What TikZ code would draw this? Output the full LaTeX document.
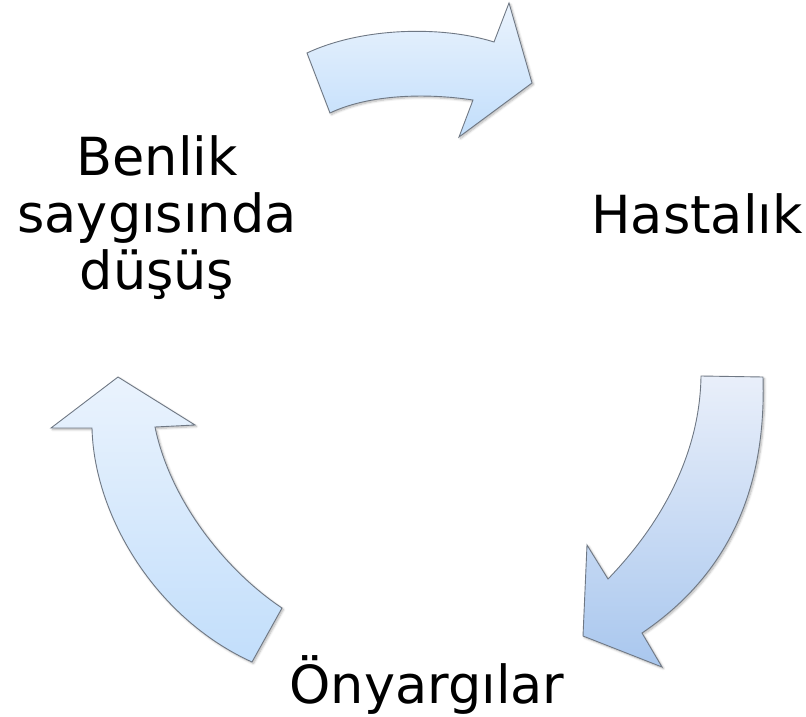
\documentclass[tikz,border=0pt]{standalone}
\usepackage{fontspec}
\setmainfont{DejaVu Sans}
\usetikzlibrary{shadows.blur}
\definecolor{edgegray}{HTML}{6F7884}
\definecolor{paleblue}{HTML}{EAF3FD}
\definecolor{skyblue}{HTML}{C2DEFB}
\definecolor{steelpale}{HTML}{E9EFFA}
\definecolor{steelblue}{HTML}{A9C7EE}
\tikzset{
  blockarrow/.style={draw=edgegray, line width=0.9pt, line join=miter,
    blur shadow={shadow xshift=1.5pt, shadow yshift=-1.5pt, shadow blur steps=6, shadow opacity=30}},
  steptext/.style={font=\fontsize{52.5}{57}\selectfont, align=center, anchor=base, inner sep=0pt}
}

\begin{document}
\begin{tikzpicture}[x=1pt, y=-1pt]
\useasboundingbox (0,0) rectangle (806,717);
% base of a multi-line node sits on its last line
\node[steptext] (self) at (157,289) {Benlik\\saygısında\\düşüş};
\node[steptext] (ill) at (697,233) {Hastalık};
\node[steptext] (bias) at (427,703) {Önyargılar};
\draw[blockarrow, top color=paleblue, bottom color=skyblue] (307,53) .. controls (360,28) and (440,25) .. (494,42) -- (509,3) -- (532,83) -- (459,137) -- (473,100) .. controls (420,92) and (365,96) .. (330,113) -- cycle;
\draw[blockarrow, top color=steelpale, bottom color=steelblue] (701,376) -- (763,377) .. controls (766,480) and (735,570) .. (642,633) -- (662,667) -- (583,636) -- (587,545) -- (608,579) .. controls (665,520) and (700,450) .. (701,376) -- cycle;
\draw[blockarrow, top color=paleblue, bottom color=skyblue] (92,428) -- (51,428) -- (118,377) -- (195,425) -- (155,427) .. controls (170,500) and (225,570) .. (282,608) -- (252,662) .. controls (155,618) and (94,515) .. (92,428) -- cycle;
\end{tikzpicture}
\end{document}
